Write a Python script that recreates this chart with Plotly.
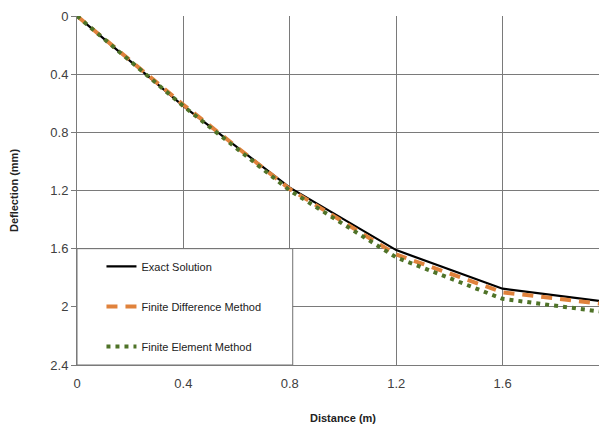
import plotly.graph_objects as go

# Data
distance = [0, 0.4, 0.8, 1.2, 1.6, 2.0]
exact = [0, 0.62, 1.18, 1.61, 1.875, 1.968]
fdm = [0, 0.61, 1.19, 1.64, 1.90, 1.985]
fem = [0, 0.62, 1.20, 1.66, 1.945, 2.04]

x_ticks = [0, 0.4, 0.8, 1.2, 1.6, 2.0]
x_labels = ["0", "0.4", "0.8", "1.2", "1.6", "2"]
y_ticks = [0, 0.4, 0.8, 1.2, 1.6, 2.0, 2.4]
y_labels = ["0", "0.4", "0.8", "1.2", "1.6", "2", "2.4"]

fig = go.Figure()
fig.add_trace(go.Scatter(x=distance, y=exact, mode="lines", name="Exact Solution",
                         line=dict(color="black", width=2.2), legendgroup="a"))
fig.add_trace(go.Scatter(x=distance, y=fdm, mode="lines", name="Finite Difference Method",
                         line=dict(color="#e0823c", width=4, dash="11px,8px"), legendgroup="b"))
fig.add_trace(go.Scatter(x=distance, y=fem, mode="lines", name="Finite Element Method",
                         line=dict(color="#4f7328", width=4, dash="4px,5px"), legendgroup="c"))

# legend box
fig.add_shape(type="rect", xref="x", yref="y", x0=0, x1=0.811, y0=1.6, y1=2.4,
              fillcolor="white", line=dict(color="#707070", width=1), layer="above")

fig.update_layout(
    width=607, height=430,
    margin=dict(l=69, r=6, t=8, b=73),
    plot_bgcolor="white", paper_bgcolor="white",
    font=dict(family="Liberation Sans, Arial, sans-serif", color="#404040"),
    showlegend=True,
    legend=dict(x=0.046, y=0.324, xanchor="left", yanchor="top",
                bgcolor="rgba(0,0,0,0)", borderwidth=0,
                font=dict(size=11, color="#222"), tracegroupgap=21,
                traceorder="grouped", itemwidth=30),
    xaxis=dict(range=[0, 2.0], tickvals=x_ticks, ticktext=x_labels,
               showgrid=True, gridcolor="#7a7a7a", gridwidth=1,
               showline=True, linecolor="#7a7a7a", linewidth=1,
               zeroline=False, ticks="", tickfont=dict(size=13, color="#404040"),
               ticklabelstandoff=6,
               ticklabeloverflow="allow", automargin=False,
               title=dict(text="<b>Distance (m)</b>", font=dict(size=11, color="#222"), standoff=24)),
    yaxis=dict(range=[2.4, 0], tickvals=y_ticks, ticktext=y_labels,
               showgrid=True, gridcolor="#7a7a7a", gridwidth=1,
               showline=True, linecolor="#7a7a7a", linewidth=1,
               zeroline=False, ticks="outside", ticklen=5, tickcolor="#7a7a7a",
               tickfont=dict(size=13, color="#404040"), automargin=False,
               title=dict(text="<b>Deflection (mm)</b>", font=dict(size=11, color="#222"), standoff=30)),
)

fig.write_html("out.html")
